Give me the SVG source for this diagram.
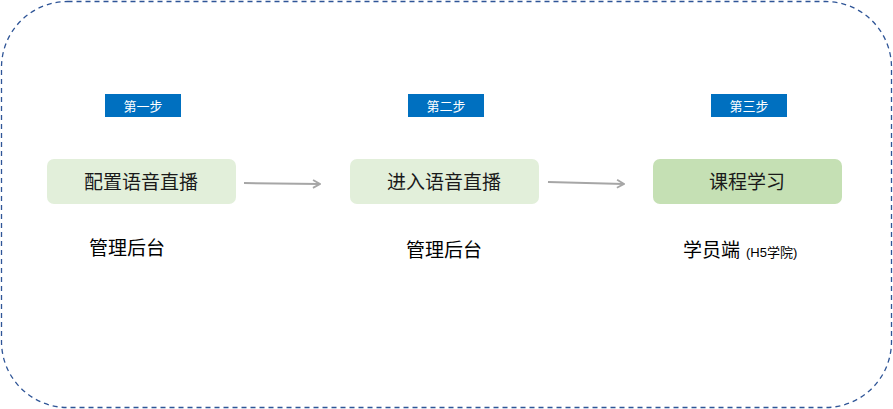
<svg xmlns="http://www.w3.org/2000/svg" width="893" height="409" viewBox="0 0 893 409">
<defs>
<style>
text{font-family:"Liberation Sans","Noto Sans CJK SC",sans-serif;}
.badge rect{fill:#0070C0;}
.badge text{fill:#fff;font-size:13px;text-anchor:middle;}
.box rect{stroke:none;}
.box text{fill:#1a1a1a;font-size:19px;text-anchor:middle;}
.lbl{fill:#000;font-size:19px;}
.conn{stroke:#A6A6A6;stroke-width:2;fill:none;marker-end:url(#ah);}
</style>
<marker id="ah" viewBox="0 0 10 10" refX="9" refY="5" markerWidth="10" markerHeight="10" orient="auto" markerUnits="userSpaceOnUse">
<path d="M2,1 L9,5 L2,9" fill="none" stroke="#A6A6A6" stroke-width="1.8"/>
</marker>
</defs>
<rect x="1.5" y="1.5" width="890" height="406" rx="66" ry="66" fill="#fff" stroke="#2F5597" stroke-width="1.3" stroke-dasharray="5,4"/>
<g id="step1-badge" class="badge"><rect x="105" y="94" width="76" height="23"/><text x="143" y="110.5">第一步</text></g>
<g id="step2-badge" class="badge"><rect x="408" y="94" width="76" height="23"/><text x="446" y="110.5">第二步</text></g>
<g id="step3-badge" class="badge"><rect x="711" y="94" width="76" height="23"/><text x="749" y="110.5">第三步</text></g>
<g id="node1" class="box"><rect x="47" y="159" width="189" height="45" rx="7" fill="#E2EFDA"/><text x="141" y="189">配置语音直播</text></g>
<g id="node2" class="box"><rect x="350" y="159" width="189" height="45" rx="7" fill="#E2EFDA"/><text x="444" y="189">进入语音直播</text></g>
<g id="node3" class="box"><rect x="653" y="159" width="189" height="45" rx="7" fill="#C5E0B4"/><text x="747" y="189">课程学习</text></g>
<g id="label1"><text class="lbl" x="89" y="255">管理后台</text></g>
<g id="label2"><text class="lbl" x="406" y="257">管理后台</text></g>
<g id="label3"><text class="lbl" x="683" y="257">学员端</text><text x="746" y="257" font-size="13" fill="#000">(H5学院)</text></g>
<g id="connectors">
<path class="conn" d="M244,183 L320,184"/>
<path class="conn" d="M548,182 L624,184"/>
</g>
</svg>
